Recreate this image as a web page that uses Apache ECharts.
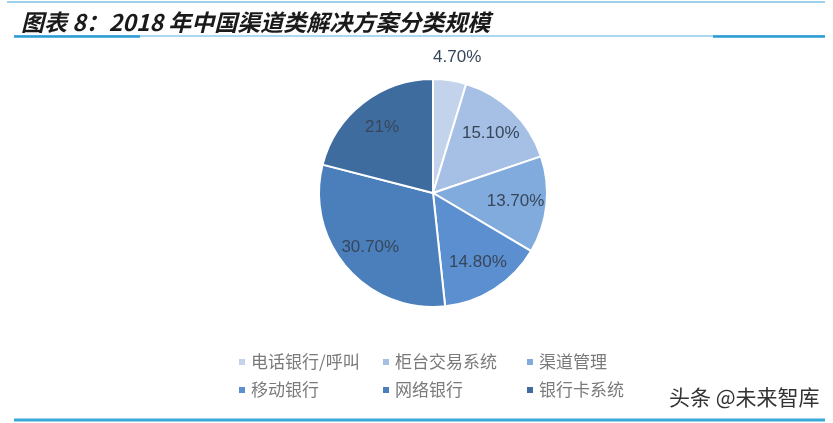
<!DOCTYPE html>
<html>
<head>
<meta charset="utf-8">
<script src="https://cdn.jsdelivr.net/npm/echarts@6/dist/echarts.min.js"></script>
<style>
html,body{margin:0;padding:0;background:#fff;}
#c{width:833px;height:423px;}
</style>
</head>
<body>
<div id="c"></div>
<script>
const categories = ['电话银行/呼叫', '柜台交易系统', '渠道管理', '移动银行', '网络银行', '银行卡系统'];
const shares = [4.7, 15.1, 13.7, 14.8, 30.7, 21];
const shareLabels = ['4.70%', '15.10%', '13.70%', '14.80%', '30.70%', '21%'];
const sliceColors = ['#c3d3ec', '#a5c0e4', '#82abdd', '#5b8fcf', '#4a7fbc', '#3f6c9f'];
const legendRow1 = categories.slice(0, 3);
const legendRow2 = categories.slice(3, 6);

const chart = echarts.init(document.getElementById('c'), null, {renderer: 'canvas'});

const center = [433, 193];
const R = 114;
const labelStyle = {
  color: '#37465a',
  fontSize: 17,
  fontFamily: '"Liberation Sans", Arial, sans-serif',
  formatter: p => shareLabels[p.dataIndex]
};

const mainData = categories.map((name, i) => ({
  name, value: shares[i], itemStyle: {color: sliceColors[i]}
}));
const innerLabelData = categories.map((name, i) => ({
  name, value: shares[i], label: {show: i !== 0}
}));
const outerLabelData = categories.map((name, i) => ({
  name, value: shares[i], label: {show: i === 0}
}));

const legendCommon = {
  orient: 'horizontal',
  icon: 'rect',
  itemWidth: 8,
  itemHeight: 8,
  itemGap: 0,
  selectedMode: false,
  textStyle: {
    color: '#7a7a7a',
    fontSize: 17,
    width: 130,
    lineHeight: 20,
    fontFamily: '"Noto Sans CJK SC", sans-serif'
  }
};

chart.setOption({
  animation: false,
  backgroundColor: '#fff',
  title: [
    {
      text: '图表 8：2018 年中国渠道类解决方案分类规模',
      left: 16, top: 6,
      textStyle: {
        fontSize: 23, fontWeight: 'bold', fontStyle: 'italic',
        color: '#1a1a1a', fontFamily: '"Noto Sans CJK SC", sans-serif'
      }
    },
    {
      text: '头条 @未来智库',
      left: 664, top: 382,
      textStyle: {
        fontSize: 21, fontWeight: 'normal', color: '#333',
        fontFamily: '"Noto Sans CJK SC", sans-serif'
      }
    }
  ],
  legend: [
    Object.assign({}, legendCommon, {data: legendRow1, left: 232, top: 347}),
    Object.assign({}, legendCommon, {data: legendRow2, left: 232, top: 375})
  ],
  graphic: [
    {type: 'line', shape: {x1: 7, y1: 2, x2: 825, y2: 2}, style: {stroke: '#7dc0e2', lineWidth: 1.5}},
    {type: 'line', shape: {x1: 14, y1: 36, x2: 825, y2: 36}, style: {stroke: '#8fcbe8', lineWidth: 1.5}},
    {type: 'line', shape: {x1: 14, y1: 36.5, x2: 140, y2: 36.5}, style: {stroke: '#2b9bd3', lineWidth: 2.5}},
    {type: 'line', shape: {x1: 713, y1: 36.5, x2: 825, y2: 36.5}, style: {stroke: '#2b9bd3', lineWidth: 2.5}},
    {type: 'line', shape: {x1: 14, y1: 420, x2: 825, y2: 420}, style: {stroke: '#3aa8d8', lineWidth: 3}}
  ],
  series: [
    {
      type: 'pie',
      center: center,
      radius: [0, R],
      startAngle: 90,
      clockwise: true,
      data: mainData,
      label: {show: false},
      labelLine: {show: false},
      itemStyle: {borderColor: '#fff', borderWidth: 2},
      emphasis: {disabled: true}
    },
    {
      type: 'pie',
      center: center,
      radius: [46, R],
      startAngle: 90,
      clockwise: true,
      silent: true,
      data: innerLabelData,
      itemStyle: {color: 'rgba(0,0,0,0)', borderWidth: 0},
      label: Object.assign({position: 'inside'}, labelStyle),
      labelLine: {show: false},
      emphasis: {disabled: true}
    },
    {
      type: 'pie',
      center: center,
      radius: [130, 138],
      startAngle: 90,
      clockwise: true,
      silent: true,
      data: outerLabelData,
      itemStyle: {color: 'rgba(0,0,0,0)', borderWidth: 0},
      label: Object.assign({position: 'inside', padding: [0, 0, 0, 8]}, labelStyle),
      labelLine: {show: false},
      emphasis: {disabled: true}
    }
  ]
});
</script>
</body>
</html>
